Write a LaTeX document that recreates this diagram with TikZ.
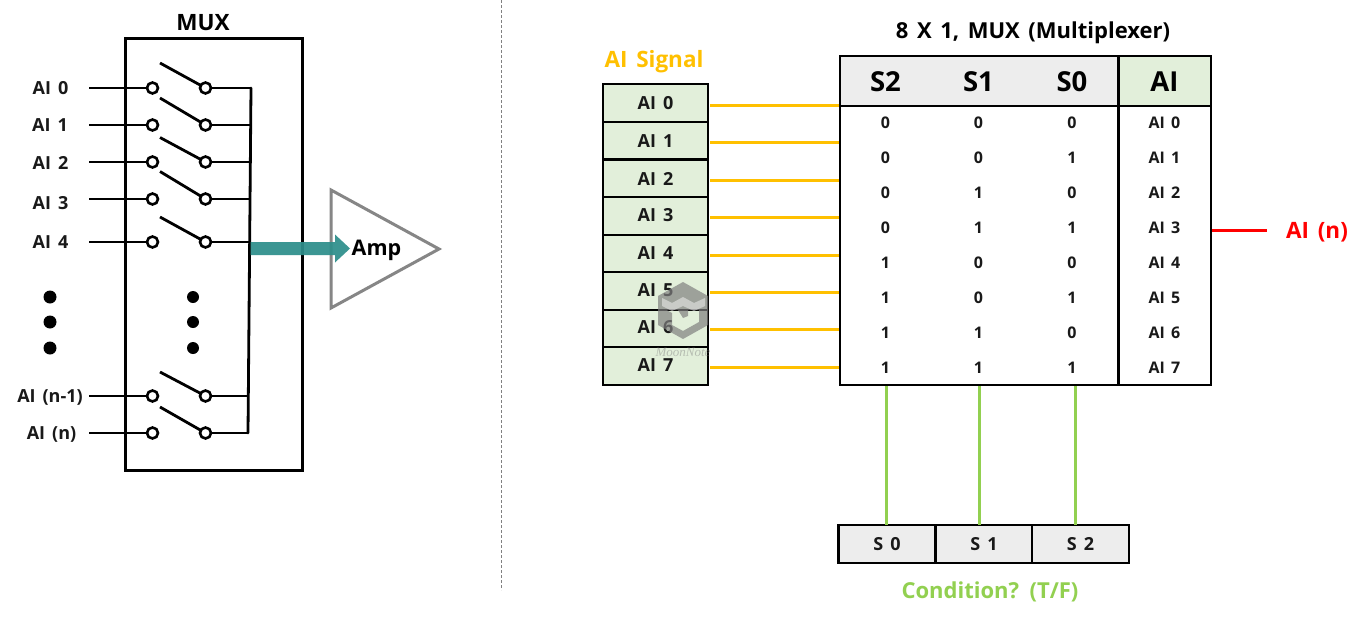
\documentclass[tikz,border=0pt]{standalone}
\usepackage{fontspec}
\setmainfont[WordSpace=1.5]{Open Sans}
\newfontfamily\wmfont{Liberation Serif}
\usetikzlibrary{arrows.meta,calc}
\definecolor{sigorange}{HTML}{FFC000}
\definecolor{condgreen}{HTML}{92D050}
\definecolor{palegreen}{HTML}{E2EFDA}
\definecolor{palegray}{HTML}{EDEDED}
\definecolor{ampteal}{HTML}{2E8F8B}
\newcommand{\fsz}[1]{\fontsize{#1}{#1}\selectfont\bfseries}
\tikzset{
  every node/.style={outer sep=0pt},
  lab/.style={inner sep=0pt,font=\fsz{18},text=black!90},
  wire/.style={line width=2.8pt,black},
  term/.style={circle,draw=black,fill=white,line width=2.6pt,minimum size=11pt,inner sep=0pt},
  dotmark/.style={circle,fill=black,minimum size=13pt,inner sep=0pt},
  cellbox/.style={rectangle,draw=black,line width=2.4pt,inner sep=0pt,font=\fsz{18}},
  tabbox/.style={rectangle,draw=black,line width=2.1pt,inner sep=0pt,anchor=north west},
  sigwire/.style={line width=3pt,sigorange},
  condwire/.style={line width=3pt,condgreen},
  tabtext/.style={inner sep=0pt,font=\fsz{16},text=black!90},
  headtext/.style={inner sep=0pt,font=\fsz{27.5}},
}
\begin{document}
\begin{tikzpicture}[x=1pt,y=-1pt]
\useasboundingbox (0,0) rectangle (1364,618);
\fill[white] (0,0) rectangle (1364,618);
% divider
\draw[gray,line width=0.8pt,dash pattern=on 3pt off 2pt] (501,0) -- (501,590);
% left: MUX
\node[rectangle,draw=black,line width=3pt,minimum width=177pt,minimum height=431pt,inner sep=0pt] (muxbox) at (213.5,254.5) {};
\node[inner sep=0pt,font=\fsz{22.5}] (muxtitle) at (203,23) {MUX};
\foreach \id/\yy/\bx/\by/\txt/\lx/\ly in {
  a/88/160/63/AI 0/50.5/88,
  b/125/160/98/AI 1/50/125.5,
  c/162/160/137.5/AI 2/50.5/163,
  d/199/160/171.5/AI 3/50.5/203,
  e/242/160/217/AI 4/50.5/242.5,
  f/396/160/372/AI (n-1)/50/397.5,
  g/433/160/407/AI (n)/51.5/434.5}{
  \node[term] (l\id) at (152.5,\yy) {};
  \node[term] (r\id) at (205.5,\yy) {};
  \node[lab] (t\id) at (\lx,\ly) {\txt};
  \coordinate (s\id) at (89,\yy);
  \coordinate (b\id) at (\bx,\by);
  \draw[wire] (s\id) -- (l\id);
  \draw[wire] (b\id) -- (r\id);
}
\coordinate (bustop) at (251,88);
\coordinate (busbot) at (248,433);
\draw[wire,line cap=round] (bustop) -- (busbot);
\foreach \id/\xx in {a/251,b/250.7,c/250.4,d/250.2,e/250,f/248.3,g/248}{
  \draw[wire] (r\id) -- (\xx,0 |- r\id);
}
\node[dotmark] (d1) at (50,297) {};
\node[dotmark] (d2) at (50,322) {};
\node[dotmark] (d3) at (50,348) {};
\node[dotmark,minimum size=12pt] (d4) at (193,297) {};
\node[dotmark,minimum size=12pt] (d5) at (193,322) {};
\node[dotmark,minimum size=12pt] (d6) at (193,348) {};
% amp
\coordinate (ampa) at (331,190);
\coordinate (ampb) at (331,308);
\coordinate (ampc) at (439,249);
\draw[line width=3pt,gray!95,line join=miter] (ampa) -- (ampc) -- (ampb) -- cycle;
\node[inner sep=0pt,font=\fsz{21.5}] (amptxt) at (376.5,250) {Amp};
\coordinate (arrstart) at (250.5,248.5);
\coordinate (arrend) at (350,248.5);
\fill[ampteal,opacity=.93] (arrstart |- 0,242) -- (335,242) -- (335,234.5) -- (arrend) -- (335,262.5) -- (335,255) -- (arrstart |- 0,255) -- cycle;
% AI Signal stack
\node[inner sep=0pt,font=\fsz{22.5},text=sigorange] (sigtitle) at (654,62) {AI Signal};
\foreach \i/\ya/\yb/\yc in {0/84/122/105,1/122/159.5/142.5,2/159.5/197/180,3/197/235/217,4/235/272/255,5/272/310/292,6/310/347/329,7/347/385/367}{
  \node[cellbox,fill=palegreen,minimum width=105pt,minimum height={\yb-\ya},anchor=north west] (sig\i) at (603,\ya) {};
  \node[inner sep=0pt,font=\fsz{18},text=black!90] (sigt\i) at (655.5,\yc-1.5) {AI \i};
  \coordinate (tabin\i) at (840,\yc);
  \coordinate (sigout\i) at (710,\yc);
  \draw[sigwire] (sigout\i) -- (tabin\i);
}
% Table
\node[inner sep=0pt,font=\fsz{22}] (tabtitle) at (1033,32.5) {8 X 1, MUX (Multiplexer)};
\node[tabbox,fill=palegray,minimum width=278.5pt,minimum height=50pt] (headl) at (840,56) {};
\node[tabbox,fill=palegreen,minimum width=92.5pt,minimum height=50pt] (headr) at (1118.5,56) {};
\node[tabbox,minimum width=278.5pt,minimum height=279pt] (bodyl) at (840,106) {};
\node[tabbox,minimum width=92.5pt,minimum height=279pt] (bodyr) at (1118.5,106) {};
\node[headtext] (h2) at (885.5,82) {S2};
\node[headtext] (h1) at (978.5,82) {S1};
\node[headtext] (h0) at (1072,82) {S0};
\node[headtext] (hai) at (1164.5,82) {AI};
\foreach \i/\a/\b/\c/\yy in {0/0/0/0/123,1/0/0/1/158,2/0/1/0/193,3/0/1/1/228,4/1/0/0/263,5/1/0/1/298,6/1/1/0/333,7/1/1/1/368}{
  \node[tabtext] (ca\i) at (885.5,\yy) {\a};
  \node[tabtext] (cb\i) at (978.5,\yy) {\b};
  \node[tabtext] (cc\i) at (1072,\yy) {\c};
  \node[tabtext] (cd\i) at (1164.5,\yy) {AI \i};
}
% red output
\coordinate (redstart) at (1212,230);
\node[inner sep=0pt,font=\fsz{22.5},text=red] (redtxt) at (1317,232) {AI (n)};
\draw[line width=3pt,red] (redstart) -- (1267,230);
% S boxes
\foreach \nm/\xa/\w/\xt/\tx in {sa/838.5/97/887/S 0,sb/935.5/96.5/984/S 1,sc/1032/97/1080.5/S 2}{
  \node[cellbox,fill=palegray,minimum width=\w pt,minimum height=38pt,anchor=north west] (\nm) at (\xa,525) {};
  \node[inner sep=0pt,font=\fsz{18},text=black!90] (\nm t) at (\xt,544.5) {\tx};
}
\foreach \nm/\xx in {sa/886,sb/979.5,sc/1075.5}{
  \coordinate (top\nm) at (\xx,386);
  \draw[condwire] (top\nm) -- (\xx,0 |- \nm.north);
}
\node[inner sep=0pt,font=\fsz{22},text=condgreen] (condtxt) at (990,592) {Condition? (T/F)};
% watermark
\fill[gray,opacity=.7,even odd rule] (683,282) -- (708,296) -- (708,325) -- (683,339) -- (658,325) -- (658,296) -- cycle
  (666,310) -- (672,313) -- (672,325) -- (683,331) -- (699,322) -- (699,310) -- (688,310) -- (688,316) -- (683,318) -- (678,310) -- cycle;
\fill[white,opacity=.45] (662,298) -- (672,303) -- (683,297) -- (694,303) -- (705,298) -- (705,306) -- (694,311) -- (683,306) -- (672,311) -- (662,306) -- cycle;
\node[inner sep=0pt,opacity=.45,font=\wmfont\itshape\fontsize{13}{13}\selectfont,text=gray] (wm) at (683,352) {MoonNote};
\end{tikzpicture}
\end{document}
